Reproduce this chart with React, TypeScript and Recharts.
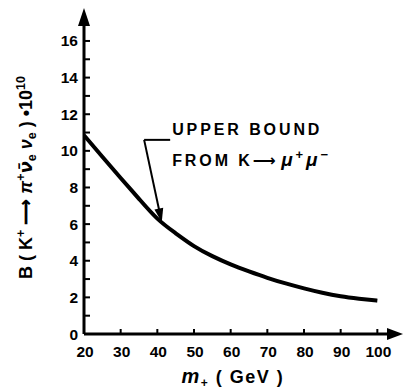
import React from "react";
import { LineChart, Line, XAxis, YAxis, ReferenceLine } from "recharts";

// charged Higgs mass (GeV) and upper bound on B(K+ -> pi+ nubar nu) x 10^10
const massGeV = [20, 25, 30, 35, 40, 45, 50, 55, 60, 65, 70, 75, 80, 85, 90, 95, 100];
const upperBound = [
  10.85, 9.68, 8.52, 7.38, 6.3, 5.5, 4.8, 4.25, 3.8, 3.42, 3.07, 2.76, 2.49, 2.25, 2.06,
  1.93, 1.82,
];
const xTicks = [20, 30, 40, 50, 60, 70, 80, 90, 100];
const yTicks = [0, 1, 2, 3, 4, 5, 6, 7, 8, 9, 10, 11, 12, 13, 14, 15, 16];
const yTickLabels = ["0", "2", "4", "6", "8", "10", "12", "14", "16"];

const X_MAX = 107;
const Y_MAX = 17.8;

const chartData = massGeV.map((m, i) => ({ m, b: upperBound[i] }));

const font = "'Liberation Sans', Arial, sans-serif";

// line with a filled arrow head at the second point
const arrowShape =
  (len: number, half: number, width: number) =>
  (p: any) => {
    const { x1, y1, x2, y2 } = p;
    const dx = x2 - x1;
    const dy = y2 - y1;
    const l = Math.hypot(dx, dy) || 1;
    const ux = dx / l;
    const uy = dy / l;
    const bx = x2 - ux * len;
    const by = y2 - uy * len;
    const nx = -uy;
    const ny = ux;
    return (
      <g>
        <line x1={x1} y1={y1} x2={bx + ux * 2} y2={by + uy * 2} stroke="#000" strokeWidth={width} />
        <polygon
          points={`${x2},${y2} ${bx + nx * half},${by + ny * half} ${bx - nx * half},${by - ny * half}`}
          fill="#000"
        />
      </g>
    );
  };

const YTick = (props: any) => {
  const { x, y, payload } = props;
  const v = String(payload.value);
  return (
    <g>
      {payload.value > 0 && (
        <line x1={x} x2={x + 6} y1={y} y2={y} stroke="#000" strokeWidth={2} />
      )}
      {yTickLabels.includes(v) && (
        <text x={x - 6} y={y} dy={5.5} textAnchor="end" fontSize={15.5} fontWeight="bold" fontFamily={font} fill="#000">
          {v}
        </text>
      )}
    </g>
  );
};

const XTick = (props: any) => {
  const { x, y, payload } = props;
  return (
    <g>
      {payload.value > 20 && (
        <line x1={x} x2={x} y1={y} y2={y - 5} stroke="#000" strokeWidth={2} />
      )}
      <text x={x + 1} y={y + 23} textAnchor="middle" fontSize={15.5} fontWeight="bold" fontFamily={font} fill="#000">
        {payload.value}
      </text>
    </g>
  );
};

const renderYLabel = (props: any) => {
  const vb = props.viewBox;
  const cx = vb.x + 32;
  const cy = vb.y + vb.height * 0.52;
  return (
    <text
      x={cx}
      y={cy}
      transform={`rotate(-90 ${cx} ${cy})`}
      textAnchor="middle"
      fontSize={18}
      fontWeight="bold"
      fontFamily={font}
      fill="#000"
    >
      <tspan>B ( K</tspan>
      <tspan dy={-7} fontSize={12.5}>+</tspan>
      <tspan dy={7}> ⟶ </tspan>
      <tspan fontStyle="italic">π</tspan>
      <tspan dy={-7} fontSize={12.5}>+</tspan>
      <tspan dy={7} fontStyle="italic" fontFamily="'DejaVu Sans', sans-serif">ν̄</tspan>
      <tspan dy={4} fontSize={12.5}>e</tspan>
      <tspan dy={-4} fontStyle="italic"> ν</tspan>
      <tspan dy={4} fontSize={12.5}>e</tspan>
      <tspan dy={-4}> ) •10</tspan>
      <tspan dy={-7} fontSize={12.5}>10</tspan>
    </text>
  );
};

const renderXLabel = (props: any) => {
  const vb = props.viewBox;
  const cx = vb.x + vb.width * 0.467;
  const cy = vb.y + 49;
  return (
    <text x={cx} y={cy} textAnchor="middle" fontSize={18} fontWeight="bold" fontFamily={font} fill="#000" letterSpacing={1.5}>
      <tspan fontStyle="italic" fontSize={20}>m</tspan>
      <tspan dy={4} fontSize={12}>+</tspan>
      <tspan dy={-4}>  ( GeV )</tspan>
    </text>
  );
};

const calloutText = (p: any) => {
  const { x1, y1, x2, y2 } = p;
  const right = Math.max(x1, x2);
  return (
    <g>
      <line x1={x1} y1={y1} x2={x2} y2={y2} stroke="#000" strokeWidth={2} />
      <text x={right + 2} y={y1 - 5} fontSize={16} fontWeight="bold" fontFamily={font} fill="#000" letterSpacing={2.9}>
        UPPER BOUND
      </text>
      <text x={right + 2} y={y1 + 26} fontSize={16} fontWeight="bold" fontFamily={font} fill="#000" letterSpacing={2.9}>
        <tspan>FROM K</tspan>
        <tspan fontFamily="'DejaVu Sans', sans-serif" letterSpacing={0}>⟶ </tspan>
        <tspan fontStyle="italic" fontSize={19}>μ</tspan>
        <tspan dy={-7} fontSize={13}>+</tspan>
        <tspan dy={7} fontStyle="italic" fontSize={19}>μ</tspan>
        <tspan dy={-7} fontSize={13}>−</tspan>
      </text>
    </g>
  );
};

export default function App() {
  return (
    <div style={{ position: "absolute", left: 0, top: 0, width: 405, height: 390, background: "#fff" }}>
      <LineChart width={405} height={390} data={chartData} margin={{ top: 8, right: 2, left: 0, bottom: 0 }}>
        <XAxis
          dataKey="m"
          type="number"
          domain={[20, X_MAX]}
          ticks={xTicks}
          allowDataOverflow
          axisLine={false}
          tickLine={false}
          tickSize={0}
          tickMargin={0}
          tick={<XTick />}
          height={56}
          interval={0}
          label={renderXLabel}
        />
        <YAxis
          type="number"
          domain={[0, Y_MAX]}
          ticks={yTicks}
          allowDataOverflow
          axisLine={false}
          tickLine={false}
          tickSize={0}
          tickMargin={0}
          tick={<YTick />}
          width={84}
          interval={0}
          label={renderYLabel}
        />
        <ReferenceLine
          segment={[{ x: 20, y: 0 }, { x: X_MAX, y: 0 }]}
          shape={arrowShape(16, 6, 3)}
          ifOverflow="visible"
        />
        <ReferenceLine
          segment={[{ x: 20, y: 0 }, { x: 20, y: Y_MAX }]}
          shape={arrowShape(18, 6, 3)}
          ifOverflow="visible"
        />
        <Line
          type="natural"
          dataKey="b"
          stroke="#000"
          strokeWidth={4}
          dot={false}
          isAnimationActive={false}
        />
        <ReferenceLine
          segment={[{ x: 36.4, y: 10.6 }, { x: 43.5, y: 10.6 }]}
          shape={calloutText}
          ifOverflow="visible"
        />
        <ReferenceLine
          segment={[{ x: 36.4, y: 10.6 }, { x: 41.2, y: 6.1 }]}
          shape={arrowShape(14, 4.5, 2)}
          ifOverflow="visible"
        />
      </LineChart>
    </div>
  );
}
